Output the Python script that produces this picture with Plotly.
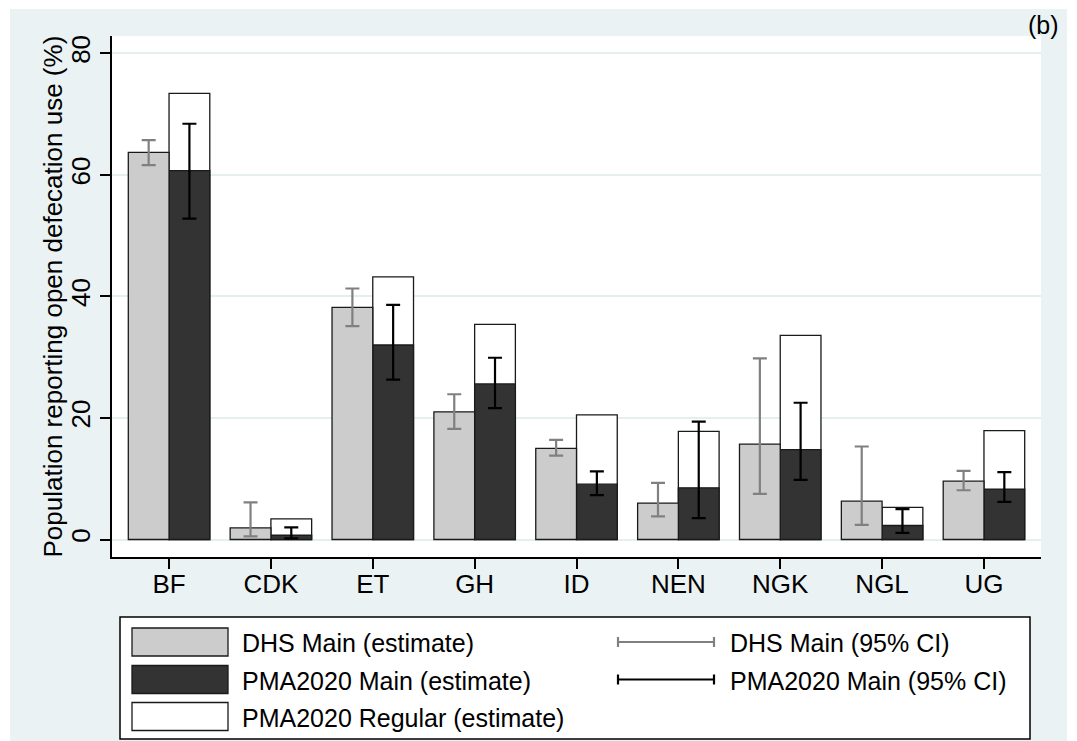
import plotly.graph_objects as go

# ---- data ----
countries = ["BF", "CDK", "ET", "GH", "ID", "NEN", "NGK", "NGL", "UG"]
dhs_est = [63.7, 1.9, 38.2, 21.0, 15.0, 6.0, 15.7, 6.3, 9.6]
dhs_lo = [61.6, 0.5, 35.1, 18.2, 13.8, 3.8, 7.5, 2.4, 8.1]
dhs_hi = [65.7, 6.1, 41.3, 23.9, 16.4, 9.3, 29.8, 15.3, 11.3]
pma_main_est = [60.7, 0.7, 32.0, 25.6, 9.1, 8.5, 14.8, 2.3, 8.3]
pma_main_lo = [52.8, 0.2, 26.3, 21.6, 7.3, 3.5, 9.8, 1.1, 6.2]
pma_main_hi = [68.4, 2.0, 38.6, 29.9, 11.2, 19.4, 22.5, 5.0, 11.1]
pma_reg_est = [73.4, 3.4, 43.2, 35.4, 20.5, 17.8, 33.6, 5.3, 17.9]
y_ticks = [0, 20, 40, 60, 80]

legend_fill_labels = ["DHS Main (estimate)", "PMA2020 Main (estimate)", "PMA2020 Regular (estimate)"]
legend_ci_labels = ["DHS Main (95% CI)", "PMA2020 Main (95% CI)"]

# ---- styling ----
FONT = "Liberation Sans, Arial, Helvetica, sans-serif"
BG = "#eaf2f3"
GRID = "#e6eff0"
C_DHS = "#cccccc"
C_PMA = "#333333"
C_REG = "#ffffff"
C_DHS_CI = "#808080"
C_PMA_CI = "#000000"
OUTLINE = "#1a1a1a"
W = 0.40

# page geometry (pixels)
PW, PH = 1077, 741
L, R, T, B = 112, 36, 36, 184
PLOT_W = PW - L - R
PLOT_H = PH - T - B


def px(xp):
    return (xp - L) / PLOT_W


def py(yp):
    return (PH - B - yp) / PLOT_H


fig = go.Figure()

# PMA2020 Regular (white, behind the PMA main bar)
fig.add_trace(go.Bar(
    x=countries, y=pma_reg_est, offset=0, width=W,
    marker=dict(color=C_REG, line=dict(color=OUTLINE, width=1.3)),
    name=legend_fill_labels[2], showlegend=False,
))
# PMA2020 Main
fig.add_trace(go.Bar(
    x=countries, y=pma_main_est, offset=0, width=W,
    marker=dict(color=C_PMA, line=dict(color=OUTLINE, width=1.3)),
    error_y=dict(type="data", symmetric=False,
                 array=[h - v for h, v in zip(pma_main_hi, pma_main_est)],
                 arrayminus=[v - l for l, v in zip(pma_main_lo, pma_main_est)],
                 color=C_PMA_CI, thickness=2.2, width=7),
    name=legend_fill_labels[1], showlegend=False,
))
# DHS Main
fig.add_trace(go.Bar(
    x=countries, y=dhs_est, offset=-W, width=W,
    marker=dict(color=C_DHS, line=dict(color=OUTLINE, width=1.3)),
    error_y=dict(type="data", symmetric=False,
                 array=[h - v for h, v in zip(dhs_hi, dhs_est)],
                 arrayminus=[v - l for l, v in zip(dhs_lo, dhs_est)],
                 color=C_DHS_CI, thickness=2.2, width=7),
    name=legend_fill_labels[0], showlegend=False,
))

shapes = []
# light graph background region and white plot region
shapes.append(dict(type="rect", xref="paper", yref="paper", layer="below",
                   x0=px(10), x1=px(1067), y0=py(745), y1=py(9),
                   fillcolor=BG, line=dict(width=0)))
shapes.append(dict(type="rect", xref="paper", yref="paper", layer="below",
                   x0=0, x1=1, y0=0, y1=1,
                   fillcolor="white", line=dict(width=0)))

# manual legend
shapes.append(dict(type="rect", xref="paper", yref="paper",
                   x0=px(120), x1=px(1030), y0=py(739), y1=py(617),
                   fillcolor="white", line=dict(color="black", width=1.5), layer="above"))
annotations = []
row_y = [642, 679.5, 716.5]
fills = [C_DHS, C_PMA, C_REG]
for i, lab in enumerate(legend_fill_labels):
    yc = row_y[i]
    shapes.append(dict(type="rect", xref="paper", yref="paper",
                       x0=px(132), x1=px(228), y0=py(yc + 14), y1=py(yc - 14),
                       fillcolor=fills[i], line=dict(color=OUTLINE, width=1.3), layer="above"))
    annotations.append(dict(x=px(240), y=py(yc + 1), xref="paper", yref="paper",
                            text=lab, showarrow=False, xanchor="left", yanchor="middle",
                            font=dict(family=FONT, size=25, color="black")))
ci_cols = [C_DHS_CI, C_PMA_CI]
for i, lab in enumerate(legend_ci_labels):
    yc = row_y[i]
    for seg in [(618, yc, 714, yc), (618, yc - 5, 618, yc + 5), (714, yc - 5, 714, yc + 5)]:
        shapes.append(dict(type="line", xref="paper", yref="paper",
                           x0=px(seg[0]), y0=py(seg[1]), x1=px(seg[2]), y1=py(seg[3]),
                           line=dict(color=ci_cols[i], width=2.2), layer="above"))
    annotations.append(dict(x=px(728), y=py(yc + 1), xref="paper", yref="paper",
                            text=lab, showarrow=False, xanchor="left", yanchor="middle",
                            font=dict(family=FONT, size=25, color="black")))

# y-axis title
annotations.append(dict(x=px(52), y=0.5, xref="paper", yref="paper",
                        text="Population reporting open defecation use (%)",
                        textangle=-90, showarrow=False, xanchor="center", yanchor="middle",
                        font=dict(family=FONT, size=26, color="black")))
# panel label
annotations.append(dict(x=px(1043), y=py(25), xref="paper", yref="paper",
                        text="(b)", showarrow=False, xanchor="center", yanchor="middle",
                        font=dict(family=FONT, size=25, color="black")))

fig.update_layout(
    width=PW, height=PH,
    margin=dict(l=L, r=R, t=T, b=B, pad=0),
    paper_bgcolor="white",
    plot_bgcolor="rgba(0,0,0,0)",
    barmode="overlay",
    showlegend=False,
    shapes=shapes,
    annotations=annotations,
    font=dict(family=FONT, size=26, color="black"),
    xaxis=dict(
        type="category", range=[-0.56, 8.56],
        showline=True, linecolor="black", linewidth=1.5,
        ticks="outside", ticklen=10, tickwidth=1.5, tickcolor="black",
        showgrid=False, zeroline=False,
        ticklabelstandoff=-7,
        tickfont=dict(family=FONT, size=26, color="black"),
        fixedrange=True,
    ),
    yaxis=dict(
        range=[-2.88, 82.84], tickvals=y_ticks,
        showline=True, linecolor="black", linewidth=1.5,
        ticks="outside", ticklen=10, tickwidth=1.5, tickcolor="black",
        showgrid=True, gridcolor=GRID, gridwidth=2,
        zeroline=False, tickangle=-90,
        ticklabelstandoff=0,
        tickfont=dict(family=FONT, size=26, color="black"),
        fixedrange=True,
    ),
)

fig.write_html("out.html")
